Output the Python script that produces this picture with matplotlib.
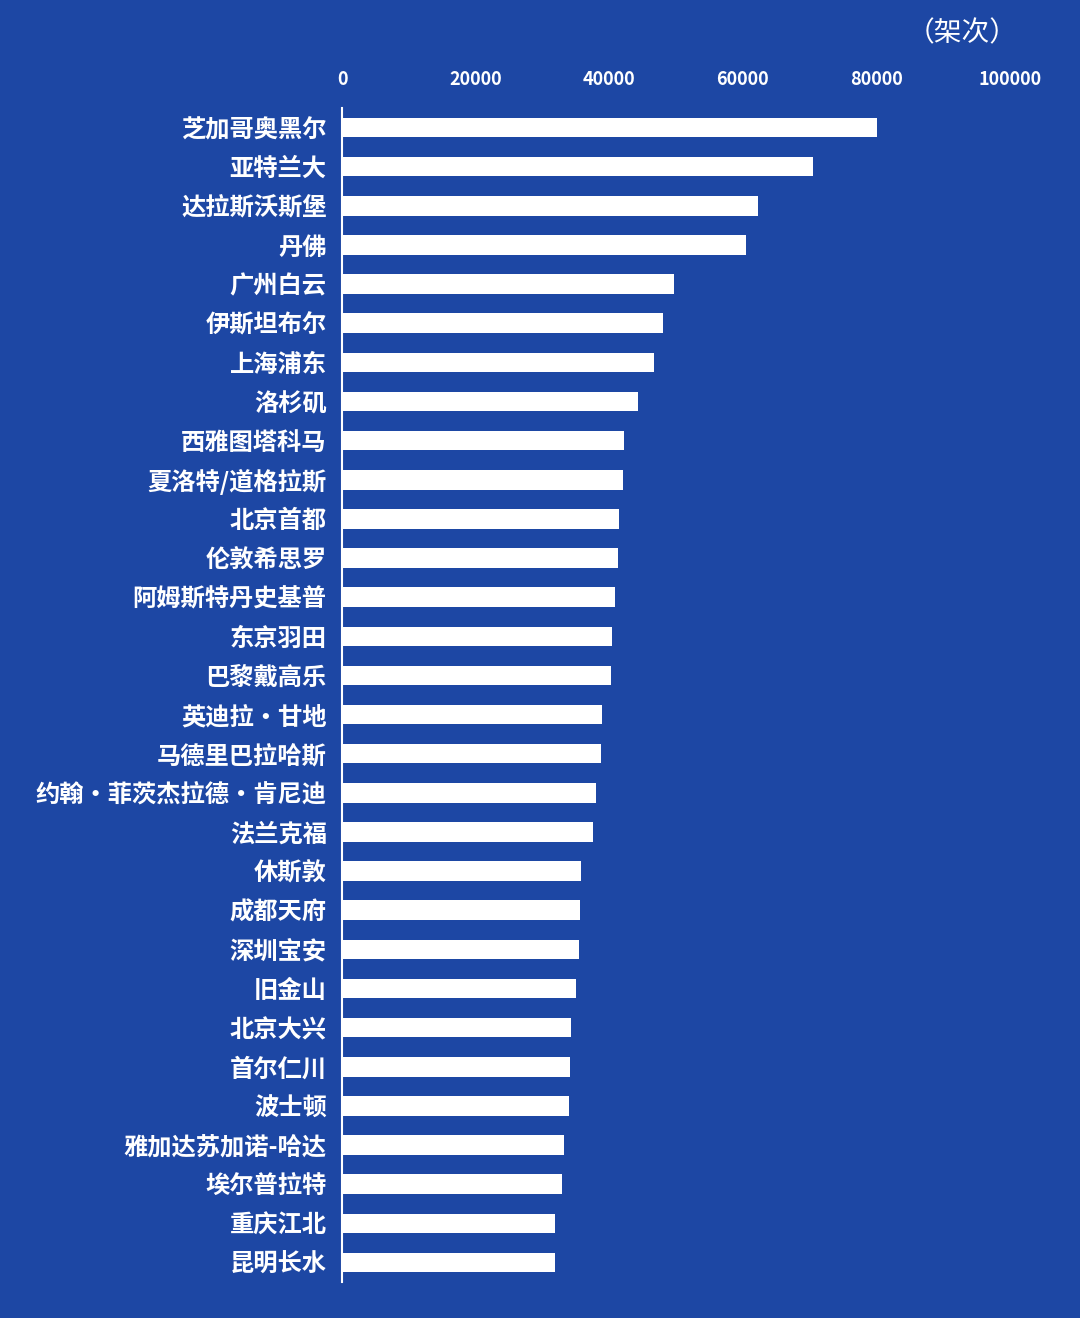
import matplotlib.pyplot as plt

plt.rcParams['font.family'] = ['Noto Sans CJK SC', 'DejaVu Sans']

airports = ['芝加哥奥黑尔', '亚特兰大', '达拉斯沃斯堡', '丹佛', '广州白云', '伊斯坦布尔',
            '上海浦东', '洛杉矶', '西雅图塔科马', '夏洛特/道格拉斯', '北京首都', '伦敦希思罗',
            '阿姆斯特丹史基普', '东京羽田', '巴黎戴高乐', '英迪拉·甘地', '马德里巴拉哈斯',
            '约翰·菲茨杰拉德·肯尼迪', '法兰克福', '休斯敦', '成都天府', '深圳宝安', '旧金山',
            '北京大兴', '首尔仁川', '波士顿', '雅加达苏加诺-哈达', '埃尔普拉特', '重庆江北', '昆明长水']
flights = [80100, 70500, 62300, 60500, 49700, 48000, 46700, 44300, 42200, 42100,
           41500, 41300, 40900, 40400, 40300, 38900, 38800, 38000, 37600, 35800,
           35600, 35500, 35000, 34300, 34100, 34000, 33200, 32900, 31900, 31900]
ticks = [0, 20000, 40000, 60000, 80000, 100000]

bg = '#1d47a4'
fig = plt.figure(figsize=(10.8, 13.18), dpi=100, facecolor=bg)
ax = fig.add_axes([342/1080, 1 - 1282/1318, (1010-342)/1080, (1282-108)/1318])
ax.set_facecolor(bg)
y = list(range(len(airports)))
ax.barh(y, flights, height=0.5, color='white')
ax.set_ylim(len(airports) - 0.5, -0.5)
ax.set_xlim(0, 100000)
ax.set_yticks(y)
ax.set_yticklabels(airports, fontsize=17.5, fontweight='bold', color='white')
ax.xaxis.tick_top()
ax.set_xticks(ticks)
ax.set_xticklabels([str(t) for t in ticks], fontsize=13, fontweight='bold', color='white')
ax.tick_params(length=0, pad=14)
ax.tick_params(axis='y', pad=11)
for s in ['top', 'right', 'bottom']:
    ax.spines[s].set_visible(False)
ax.spines['left'].set_color('white')
ax.spines['left'].set_linewidth(1.5)
fig.text(962/1080, 1 - 33/1318, '（架次）', fontsize=20, color='white', ha='center', va='center')
fig.savefig('out.png', facecolor=bg)
